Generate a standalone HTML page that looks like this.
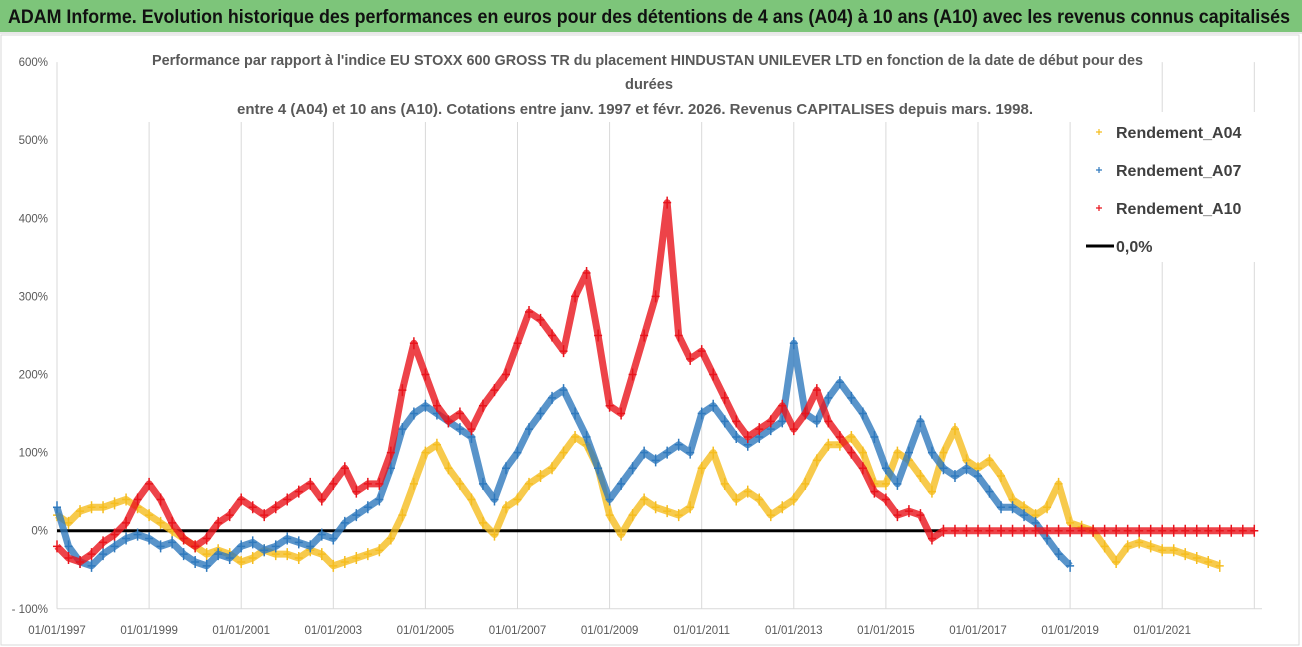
<!DOCTYPE html>
<html><head><meta charset="utf-8"><style>
body{margin:0;width:1302px;height:647px;overflow:hidden;background:#fff;font-family:"Liberation Sans",sans-serif}
#bar{position:absolute;left:0;top:0;width:1302px;height:32px;background:#7dc57a;border-bottom:2px solid #e8e8e8}
svg{position:absolute;left:0;top:0}
</style></head><body>
<div id="bar"></div>
<svg id="c" width="1302" height="647">
<text x="8" y="23" font-size="19" font-weight="bold" fill="#111" textLength="1282" lengthAdjust="spacingAndGlyphs">ADAM Informe. Evolution historique des performances en euros pour des détentions de 4 ans (A04) à 10 ans (A10) avec les revenus connus capitalisés</text>
</svg>
<script>
const yTicks=[600,500,400,300,200,100,0,-100];
const yTickLabels=["600%","500%","400%","300%","200%","100%","0%","- 100%"];
const xTickYears=[1997,1999,2001,2003,2005,2007,2009,2011,2013,2015,2017,2019,2021];
const xTickLabels=["01/01/1997","01/01/1999","01/01/2001","01/01/2003","01/01/2005","01/01/2007","01/01/2009","01/01/2011","01/01/2013","01/01/2015","01/01/2017","01/01/2019","01/01/2021"];
const startYear=1997, step=0.25;
const a04=[20,10,25,30,30,35,40,30,20,10,0,-10,-20,-30,-25,-30,-40,-35,-25,-30,-30,-35,-25,-30,-45,-40,-35,-30,-25,-10,20,60,100,110,80,60,40,10,-5,30,40,60,70,80,100,120,110,80,20,-5,20,40,30,25,20,30,80,100,60,40,50,40,20,30,40,60,90,110,110,120,100,60,60,100,90,70,50,100,130,90,80,90,70,40,30,20,30,60,10,5,0,-20,-40,-20,-15,-20,-25,-25,-30,-35,-40,-45];
const a07=[30,-20,-40,-45,-30,-20,-10,-5,-10,-20,-15,-30,-40,-45,-30,-35,-20,-15,-25,-20,-10,-15,-20,-5,-10,10,20,30,40,80,130,150,160,150,140,130,120,60,40,80,100,130,150,170,180,150,120,80,40,60,80,100,90,100,110,100,150,160,140,120,110,120,130,140,240,150,140,170,190,170,150,120,80,60,100,140,100,80,70,80,70,50,30,30,20,10,-10,-30,-45];
const a10=[-20,-35,-40,-30,-15,-5,10,40,60,40,10,-10,-20,-10,10,20,40,30,20,30,40,50,60,40,60,80,50,60,60,100,180,240,200,160,140,150,130,160,180,200,240,280,270,250,230,300,330,250,160,150,200,250,300,420,250,220,230,200,170,140,120,130,140,160,130,150,180,140,120,100,80,50,40,20,25,20,-10,
0,0,0,0,0,0,0,0,0,0,
0,0,0,0,0,0,0,0,0,0,
0,0,0,0,0,0,0,0];
const zeroLine=[0,0];
const zeroLineYears=[1997,2016.2];

const NS="http://www.w3.org/2000/svg",svg=document.getElementById('c');
const X=yr=>57+(yr-1997)*46.05;
const Y=v=>530.7-v*0.781;
function mk(t,at){const e=document.createElementNS(NS,t);for(const k in at)e.setAttribute(k,at[k]);svg.appendChild(e);return e;}
let fr=mk('rect',{x:1,y:35,width:1298,height:610,fill:'none',stroke:'#d9d9d9'});


xTickYears.concat([2023]).forEach(yr=>{let g=mk('line',{x1:X(yr),x2:X(yr),y1:Y(600),y2:Y(-100),stroke:'#d9d9d9'});

});
xTickYears.forEach((yr,i)=>{let t=mk('text',{x:X(yr),y:634,'text-anchor':'middle','font-size':11.5,fill:'#595959'});t.textContent=xTickLabels[i];

});
let ax=mk('line',{x1:57,x2:1262,y1:Y(-100),y2:Y(-100),stroke:'#d9d9d9'});


yTicks.forEach((v,i)=>{let t=mk('text',{x:48,y:Y(v)+4,'text-anchor':'end','font-size':11.5,fill:'#595959'});t.textContent=yTickLabels[i];

});
let sb=mk('rect',{x:148,y:44,width:1000,height:78,fill:'#fff'});


const sub=["Performance par rapport à l'indice EU STOXX 600 GROSS TR  du placement HINDUSTAN UNILEVER LTD en fonction de la date de début pour des","durées","entre 4 (A04) et 10 ans (A10). Cotations entre janv. 1997 et févr. 2026. Revenus CAPITALISES depuis mars. 1998."];
const subX=[152,625,237],subW=[991,48,796];
[65,89,114].forEach((y,i)=>{let t=mk('text',{x:subX[i],y:y,'font-size':14.5,'font-weight':'bold',fill:'#595959',textLength:subW[i],lengthAdjust:'spacingAndGlyphs'});t.textContent=sub[i];

});
function series(vals,col,name){
  const pts=vals.map((v,i)=>[X(startYear+i*step),Y(v)]);
  let p=mk('polyline',{points:pts.map(p=>p.join(',')).join(' '),fill:'none',stroke:col,'stroke-width':7,'stroke-opacity':0.8,'stroke-linejoin':'round'});
  
  
  pts.forEach(([x,y])=>{let m=mk('path',{d:`M${x-4},${y}h8M${x},${y-6}v12`,stroke:col,'stroke-width':1.5});
  
  });
}
let zl=mk('line',{x1:X(zeroLineYears[0]),x2:X(zeroLineYears[1]),y1:Y(zeroLine[0]),y2:Y(zeroLine[1]),stroke:'#000','stroke-width':3});


series(a04,'#f5bd1f','series-a04');
series(a07,'#2f79bd','series-a07');
series(a10,'#e8141c','series-a10');
let lb=mk('rect',{x:1082,y:112,width:190,height:150,fill:'#fff'});


const legNames=["Rendement_A04","Rendement_A07","Rendement_A10","0,0%"];
const legCols=['#f5bd1f','#2f79bd','#e8141c','#000'];
[132,170,208,246].forEach((y,i)=>{
  if(i<3){let m=mk('path',{d:`M${1096},${y}h6M${1099},${y-3}v6`,stroke:legCols[i],'stroke-width':1.2});
  
  }
  else{let m=mk('line',{x1:1086,x2:1114,y1:y,y2:y,stroke:'#000','stroke-width':3});
  
  }
  let t=mk('text',{x:1116,y:y+6,'font-size':16,'font-weight':'bold',fill:'#404040'});t.textContent=legNames[i];
  
  
});
</script>
</body></html>
